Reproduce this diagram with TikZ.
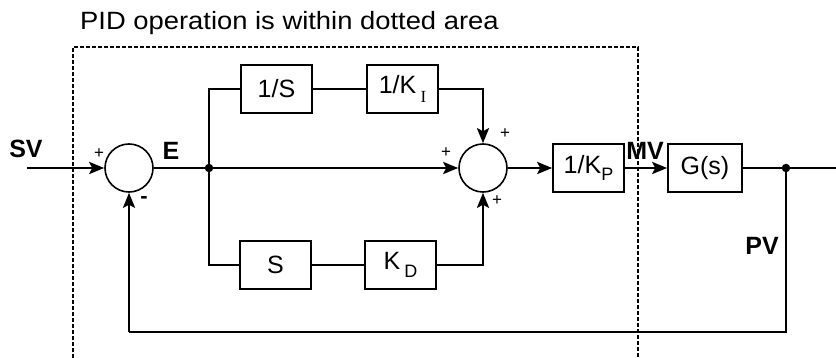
\documentclass[tikz,border=0pt]{standalone}
\usepackage{fontspec}
\setmainfont{Liberation Sans}
\newfontfamily\serifsub{Liberation Serif}
\usetikzlibrary{arrows.meta}
\tikzset{
  blk/.style={draw, line width=1.6pt, minimum width=71pt, minimum height=48pt, inner sep=0pt, font=\fontsize{25}{28}\selectfont},
  sumnode/.style={draw, circle, line width=1.6pt, minimum size=48pt, inner sep=0pt},
  conn/.style={line width=2.6pt},
  arr/.style={line width=2.6pt, -{Stealth[length=15pt,width=12pt,inset=3pt]}},
  sig/.style={font=\bfseries\fontsize{25}{28}\selectfont, inner sep=0pt},
  sgn/.style={font=\fontsize{17}{18}\selectfont, inner sep=0pt},
  dot/.style={circle, fill, minimum size=8.5pt, inner sep=0pt},
  pidarea/.style={line width=2.2pt, dash pattern=on 4pt off 2pt}
}
\begin{document}
\begin{tikzpicture}[x=1pt,y=-1pt]
\useasboundingbox (0,0) rectangle (836,358);
% title
\node[anchor=base west, inner sep=0pt, font=\fontsize{25}{28}\selectfont] (title) at (80,30) {\scalebox{1.095}[1]{PID operation is within dotted area}};
% dotted area
\draw[pidarea] (73,358) -- (73,47) -- (638,47) -- (638,358);
% nodes
\node[sumnode] (s1) at (129,168) {};
\node[sumnode] (s2) at (483,168) {};
\node[blk] (bi) at (276.5,89) {1/S};
\node[blk] (bki) at (402.5,89) {1/K\,\raisebox{-0.35em}{\serifsub\fontsize{17}{17}\selectfont I}};
\node[blk] (bd) at (275.5,265) {S};
\node[blk] (bkd) at (400.5,265) {K\,\raisebox{-0.35em}{\fontsize{18}{18}\selectfont D}};
\node[blk] (bkp) at (588.5,168) {1/K\raisebox{-0.3em}{\fontsize{18}{18}\selectfont P}};
\node[blk, minimum width=74pt] (bg) at (705,168) {G(s)};
\node[dot] (j1) at (209,168) {};
\node[dot] (j2) at (786,168) {};
\coordinate (sv) at (27,168);
\coordinate (out) at (836,168);
\coordinate (fb1) at (786,332);
\coordinate (fb2) at (129,332);
\coordinate (up) at (209,89);
\coordinate (dn) at (209,265);
% connectors
\draw[arr] (sv) -- (s1.west);
\draw[conn] (s1.east) -- (j1.center);
\draw[arr] (j1.center) -- (s2.west);
\draw[conn] (j1.center) -- (up) -- (bi.west);
\draw[conn] (bi.east) -- (bki.west);
\draw[arr] (bki.east) -| (s2.north);
\draw[conn] (j1.center) -- (dn) -- (bd.west);
\draw[conn] (bd.east) -- (bkd.west);
\draw[arr] (bkd.east) -| (s2.south);
\draw[arr] (s2.east) -- (bkp.west);
\draw[arr] (bkp.east) -- (bg.west);
\draw[conn] (bg.east) -- (out);
\draw[conn] (j2.center) -- (fb1) -- (fb2);
\draw[arr] (fb2) -- (s1.south);
% labels
\node[sig] (lsv) at (26,149) {SV};
\node[sig] (le) at (171,151) {E};
\node[sig] (lmv) at (645,151) {MV};
\node[sig] (lpv) at (762,246) {PV};
\node[sgn] (p1) at (99,154) {+};
\node[sgn, font=\bfseries\fontsize{22}{22}\selectfont] (m1) at (144,200) {-};
\node[sgn] (p2) at (446,153) {+};
\node[sgn] (p3) at (505,134) {+};
\node[sgn] (p4) at (497,201) {+};
\end{tikzpicture}
\end{document}
